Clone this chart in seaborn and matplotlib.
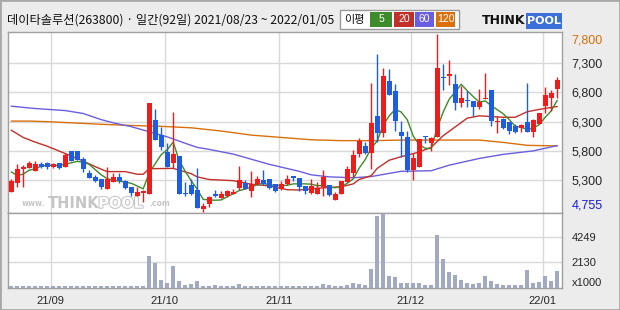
import numpy as np
import pandas as pd
import matplotlib
matplotlib.use("Agg")
import matplotlib.pyplot as plt
import seaborn as sns
from matplotlib.patches import Rectangle
import matplotlib.patheffects as pe

sns.set_theme(style="white")
plt.rcParams['font.family'] = ['DejaVu Sans']

# ---------------- data ----------------
days = list(range(92))
opens = [5100, 5245, 5485, 5515, 5460, 5570, 5585, 5530, 5585, 5530,
         5800, 5795, 5660, 5425, 5355, 5310, 5145, 5270, 5355, 5285,
         5185, 5030, 5085, 5055, 6325, 6065, 5780, 5595, 5710, 5070,
         5215, 5130, 4800, 4890, 5070, 5000, 5030, 5070, 5170, 5255,
         5115, 5225, 5300, 5315, 5230, 5140, 5230, 5370, 5330, 5195,
         5085, 5065, 5185, 5215, 4960, 5055, 5270, 5425, 5740, 5890,
         5770, 6395, 6110, 6995, 6825, 6130, 6040, 5470, 5530, 6055,
         5930, 6040, 7060, 7080, 6945, 6625, 6670, 6655, 6555, 6690,
         6840, 6290, 6340, 6290, 6225, 6195, 6300, 6130, 6260, 6565,
         6700, 6860]
highs = [5320, 5570, 5555, 5625, 5625, 5615, 5615, 5585, 5590, 5770,
         5800, 5800, 5700, 5470, 5380, 5310, 5530, 5425, 5425, 5300,
         5185, 5185, 5130, 6625, 6515, 6215, 5930, 6470, 5710, 5270,
         5310, 5510, 4900, 5030, 5130, 5115, 5130, 5155, 5540, 5300,
         5455, 5375, 5470, 5320, 5235, 5285, 5385, 5375, 5330, 5200,
         5315, 5270, 5470, 5215, 5100, 5290, 5540, 5815, 6015, 5955,
         6965, 7455, 7225, 7200, 6945, 6315, 6140, 5770, 6000, 6055,
         6030, 7800, 7295, 7355, 7110, 6910, 6825, 6655, 6860, 7125,
         6840, 6395, 6355, 6290, 6255, 6260, 6970, 6340, 6440, 6900,
         6840, 7070]
lows = [5090, 5185, 5185, 5500, 5460, 5510, 5485, 5510, 5485, 5530,
        5630, 5640, 5430, 5340, 5270, 5155, 5145, 5270, 5255, 5145,
        5025, 5030, 4930, 5055, 5985, 5815, 5530, 5500, 5055, 5030,
        5045, 4825, 4755, 4845, 5015, 4985, 5015, 5055, 5130, 5140,
        5005, 5215, 5215, 5155, 5100, 5130, 5215, 5290, 5110, 5055,
        5070, 5055, 5030, 5030, 4960, 5055, 5270, 5355, 5690, 5755,
        5485, 5945, 6040, 6755, 6145, 5700, 5430, 5300, 5530, 5930,
        5800, 6040, 6840, 6925, 6500, 6545, 6555, 6400, 6510, 6680,
        6230, 6110, 6175, 6090, 6110, 6115, 6115, 6030, 6260, 6440,
        6485, 6710]
closes = [5280, 5485, 5530, 5595, 5570, 5530, 5530, 5570, 5515, 5730,
          5630, 5645, 5495, 5340, 5290, 5185, 5315, 5355, 5290, 5170,
          5085, 5100, 5110, 6625, 5985, 5860, 5530, 5745, 5055, 5055,
          5055, 4825, 4855, 5015, 5030, 5070, 5110, 5100, 5300, 5155,
          5230, 5310, 5230, 5170, 5110, 5230, 5315, 5340, 5185, 5115,
          5205, 5170, 5355, 5045, 5065, 5285, 5485, 5730, 5970, 5770,
          6270, 6110, 7080, 6765, 6315, 6055, 5470, 5680, 6000, 6030,
          6025, 7225, 7040, 7110, 6625, 6710, 6655, 6555, 6640, 6710,
          6315, 6315, 6185, 6145, 6130, 6240, 6115, 6330, 6440, 6755,
          6795, 7010]
volume = [110, 120, 100, 110, 100, 110, 100, 110, 120, 110,
          100, 110, 120, 100, 110, 100, 120, 110, 100, 110,
          100, 110, 120, 2660, 2070, 600, 375, 1815, 540, 205,
          290, 540, 120, 120, 205, 120, 120, 110, 290, 120,
          110, 120, 110, 120, 110, 120, 110, 120, 110, 120,
          110, 120, 290, 205, 120, 120, 205, 375, 290, 205,
          1560, 6050, 6220, 965, 880, 375, 375, 375, 375, 205,
          205, 4440, 2400, 1305, 1050, 625, 375, 290, 400, 1000,
          560, 280, 230, 230, 230, 230, 1470, 340, 480, 960,
          540, 1390]

ma5 = [5440, 5380, 5400, 5470, 5490, 5540, 5550, 5560, 5545, 5575,
       5595, 5620, 5605, 5570, 5480, 5390, 5325, 5295, 5285, 5265,
       5245, 5200, 5150, 5420, 5580, 5735, 5820, 5950, 5635, 5450,
       5290, 5145, 4970, 4960, 4955, 4960, 5015, 5065, 5120, 5145,
       5180, 5220, 5245, 5220, 5210, 5210, 5210, 5235, 5235, 5235,
       5230, 5205, 5205, 5180, 5170, 5185, 5245, 5320, 5505, 5650,
       5845, 5970, 6240, 6400, 6510, 6465, 6335, 6055, 5905, 5845,
       5840, 6190, 6465, 6685, 6805, 6940, 6830, 6730, 6635, 6655,
       6575, 6505, 6435, 6335, 6220, 6205, 6165, 6190, 6250, 6375,
       6485, 6665]
ma20_days = [0, 2, 4, 6, 9, 12, 14, 16, 19, 21, 22, 23, 27, 28, 30, 31, 33, 37, 40, 43,
             46, 48, 51, 55, 57, 58, 60, 61, 63, 65, 68, 70, 72, 74, 76, 78, 82, 84, 86, 88, 91]
ma20_vals = [6155, 6030, 5950, 5880, 5755, 5625, 5530, 5445, 5445, 5400, 5400, 5495, 5500, 5470, 5410,
             5355, 5310, 5290, 5230, 5200, 5135, 5130, 5160, 5185, 5235, 5310, 5375, 5500, 5640,
             5700, 5780, 5860, 6060, 6210, 6360, 6400, 6375, 6375, 6470, 6510, 6560]
ma60_days = [0, 4, 9, 12, 15, 17, 20, 26, 29, 31, 33, 37, 43, 48, 50, 53, 57, 60, 63, 65,
             70, 73, 78, 82, 87, 91]
ma60_vals = [6565, 6525, 6490, 6440, 6335, 6280, 6215, 6040, 5930, 5860, 5825, 5745, 5570,
             5450, 5390, 5355, 5340, 5360, 5415, 5450, 5460, 5555, 5670, 5740, 5800, 5890]
ma120_days = [0, 3, 6, 10, 15, 20, 25, 30, 35, 40, 45, 50, 55, 60, 65, 70, 78, 82, 86, 91]
ma120_vals = [6310, 6310, 6300, 6280, 6255, 6235, 6220, 6195, 6140, 6070, 6030, 5990, 5975,
              5975, 5985, 5985, 5985, 5945, 5895, 5885]

price_ticks = [4755, 5300, 5800, 6300, 6800, 7300, 7800]
price_labels = ["4,755", "5,300", "5,800", "6,300", "6,800", "7,300", "7,800"]
price_grid = [5300, 5800, 6300, 6800, 7300]
vol_ticks = [0, 2130, 4249]
vol_labels = ["x1000", "2130", "4249"]
month_days = [7, 26, 45, 67, 89]
month_labels = ["21/09", "21/10", "21/11", "21/12", "22/01"]
title = "데이타솔루션(263800) · 일간(92일) 2021/08/23 ~ 2022/01/05"
legend_items = [("5", "#3d8b2a"), ("20", "#c22f28"), ("60", "#6a5ee0"), ("120", "#d9700c")]

# ---------------- style ----------------
BG = "#ececec"
RED = "#f01c1c"
BLUE = "#1e5ce0"
GRID = "#d9d9d9"
FRAME = "#a0a0a0"
VOLC = "#a1aac2"

df = pd.DataFrame({"day": days, "open": opens, "high": highs, "low": lows,
                   "close": closes, "volume": volume, "ma5": ma5})

W, H = 620, 310
fig = plt.figure(figsize=(W / 100, H / 100), dpi=100, facecolor=BG)


def rect(x0, y0, x1, y1):
    return [x0 / W, 1 - y1 / H, (x1 - x0) / W, (y1 - y0) / H]


axp = fig.add_axes(rect(8, 32, 562, 212.5))
axv = fig.add_axes(rect(8, 212.5, 562, 287.5))
XL = (-0.53, 91.8)

for ax in (axp, axv):
    ax.set_facecolor("white")
    for s in ax.spines.values():
        s.set_color(FRAME)
        s.set_linewidth(1.0)
    for d in month_days:
        ax.axvline(d - 0.42, color=GRID, lw=1.0, zorder=0)

for g in price_grid:
    axp.axhline(g, color=GRID, lw=1.0, zorder=0)

# moving averages
sns.lineplot(x=ma120_days, y=ma120_vals, ax=axp, color="#d9700c", lw=1.0, zorder=2)
sns.lineplot(x=ma60_days, y=ma60_vals, ax=axp, color="#6a5ee0", lw=1.0, zorder=2)
sns.lineplot(x=ma20_days, y=ma20_vals, ax=axp, color="#c22f28", lw=1.0, zorder=2)
sns.lineplot(data=df, x="day", y="ma5", ax=axp, color="#3d8b2a", lw=1.0, zorder=2)

# candles
up = df["close"] >= df["open"]
cols = np.where(up, RED, BLUE)
axp.vlines(df["day"], df["low"], df["high"], colors=cols, lw=1.0, zorder=3)
bottom = np.minimum(df["open"], df["close"])
height = np.maximum(np.abs(df["close"] - df["open"]), 18)
axp.bar(df["day"], height, bottom=bottom, width=0.78, color=cols, lw=0, zorder=4)

axp.set_xlim(*XL)
axp.set_ylim(4745, 7835)
axp.set_xticks([])
axp.yaxis.tick_right()
axp.set_yticks(price_ticks)
axp.set_yticklabels(price_labels, fontsize=9, family="Liberation Sans")
axp.tick_params(axis="y", length=0, pad=7)
tl = axp.get_yticklabels()
tl[0].set_color("#1a1ae0")
tl[0].set_va("bottom")
tl[-1].set_color("#d2700a")
tl[-1].set_va("top")
axp.set_xlabel("")
axp.set_ylabel("")

# watermark
WM = "#c6c6c6"
axp.text(0.025, 0.025, "www.", transform=axp.transAxes, fontsize=5.5, color=WM,
         fontweight="bold", va="bottom", ha="left", zorder=1)
axp.text(0.072, 0.01, "THINK", transform=axp.transAxes, fontsize=10.5, color=WM,
         fontweight="bold", va="bottom", ha="left", zorder=1)
axp.text(0.163, 0.01, "POOL", transform=axp.transAxes, fontsize=10.5, color="white",
         fontweight="bold", va="bottom", ha="left", zorder=1,
         path_effects=[pe.withStroke(linewidth=1.5, foreground=WM)])
axp.text(0.255, 0.025, ".com", transform=axp.transAxes, fontsize=5.5, color=WM,
         fontweight="bold", va="bottom", ha="left", zorder=1)

# volume
sns.barplot(data=df, x="day", y="volume", ax=axv, color=VOLC, saturation=1,
            width=0.72, linewidth=0, zorder=3)
for g in vol_ticks[1:]:
    axv.axhline(g, color=GRID, lw=1.0, zorder=0)
axv.set_xlim(*XL)
axv.set_ylim(0, 6360)
axv.yaxis.tick_right()
axv.set_yticks(vol_ticks)
axv.set_yticklabels(vol_labels, fontsize=8, family="Liberation Sans")
vl = axv.get_yticklabels()
vl[0].set_va("bottom")
axv.tick_params(axis="y", length=0, pad=7)
axv.set_xticks([d - 0.42 for d in month_days])
axv.set_xticklabels(month_labels, fontsize=8, family="Liberation Sans")
axv.tick_params(axis="x", length=0, pad=6)
axv.set_xlabel("")
axv.set_ylabel("")

# header
fig.text(7 / W, 1 - 20.5 / H, title, fontsize=8.8, va="center", ha="left",
         family=["Noto Sans CJK KR", "DejaVu Sans"], color="#111111")
# legend box
fig.patches.append(Rectangle((340 / W, 1 - 29 / H), 119 / W, 19 / H, transform=fig.transFigure,
                             fc="white", ec="#999999", lw=1.0))
fig.text(344 / W, 1 - 19.5 / H, "이평", fontsize=8, va="center", ha="left",
         family=["Noto Sans CJK KR", "DejaVu Sans"], color="#111111")
lx = [370, 394, 415, 436]
lw_ = [22, 20, 19, 19]
for (lab, c), x0, w in zip(legend_items, lx, lw_):
    fig.patches.append(Rectangle((x0 / W, 1 - 27 / H), w / W, 15 / H, transform=fig.transFigure,
                                 fc=c, ec="none"))
    fig.text((x0 + w / 2) / W, 1 - 19.5 / H, lab, fontsize=7.5, color="white", ha="center",
             va="center", family="Liberation Sans")

# logo
fig.text(525 / W, 1 - 21 / H, "THINK", fontsize=9, fontweight="bold", color="#111111",
         va="center", ha="right", family="DejaVu Sans")
fig.patches.append(Rectangle((526 / W, 1 - 29 / H), 36 / W, 16 / H, transform=fig.transFigure,
                             fc="#3d6fd8", ec="none"))
fig.text(544 / W, 1 - 21 / H, "POOL", fontsize=8, fontweight="bold", color="white",
         va="center", ha="center", family="DejaVu Sans")

fig.patches.append(Rectangle((0, 0), 1, 1, transform=fig.transFigure, fill=False,
                             ec="#a8a8a8", lw=2))

fig.savefig("out.png", dpi=100, facecolor=BG)
